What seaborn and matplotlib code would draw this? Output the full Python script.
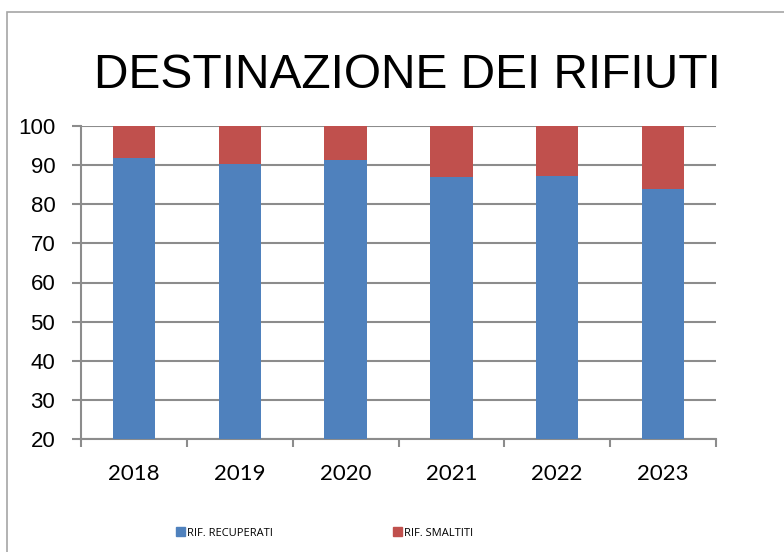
import pandas as pd
import matplotlib.pyplot as plt
import seaborn as sns
from matplotlib.patches import Patch, Rectangle
from matplotlib.ticker import FixedLocator

# values (percent)
anni = ['2018', '2019', '2020', '2021', '2022', '2023']
recuperati = [91.8, 90.4, 91.2, 86.9, 87.1, 83.8]
smaltiti = [8.2, 9.6, 8.8, 13.1, 12.9, 16.2]

df = pd.DataFrame({'Anno': anni, 'Recuperati': recuperati, 'Smaltiti': smaltiti})
df['Totale'] = df['Recuperati'] + df['Smaltiti']

blue = '#4F81BD'
red = '#C0504D'
grey = '#8C8C8C'

sns.set_style('white')
plt.rcParams['font.family'] = ['Liberation Sans', 'DejaVu Sans']
plt.rcParams['text.color'] = 'black'
plt.rcParams['xtick.color'] = 'black'
plt.rcParams['ytick.color'] = 'black'

fig = plt.figure(figsize=(7.84, 5.52), dpi=100)
ax = fig.add_axes([81 / 784, 1 - 439 / 552, (716 - 81) / 784, (439 - 126) / 552])

# stacked bars: total (red) first, then the recovered part on top
sns.barplot(data=df, x='Anno', y='Totale', color=red, width=0.4, ax=ax,
            saturation=1, edgecolor='none', zorder=3)
sns.barplot(data=df, x='Anno', y='Recuperati', color=blue, width=0.4, ax=ax,
            saturation=1, edgecolor='none', zorder=3)

ax.set_ylim(20, 100)
ax.set_xlim(-0.5, len(anni) - 0.5)
ax.set_yticks(range(20, 101, 10))
ax.set_xlabel('')
ax.set_ylabel('')

ax.yaxis.grid(True, color=grey, linewidth=1.5, zorder=0)
ax.set_axisbelow(True)
for s in ['top', 'right']:
    ax.spines[s].set_visible(False)
for s in ['left', 'bottom']:
    ax.spines[s].set_color(grey)
    ax.spines[s].set_linewidth(1.5)

ax.tick_params(axis='y', direction='out', length=6.5, width=1.5, color=grey,
               labelcolor='black', pad=12, labelsize=16, left=True)
ax.tick_params(axis='x', which='major', length=0, pad=18, labelsize=16,
               labelcolor='black')
ax.xaxis.set_minor_locator(FixedLocator([i - 0.5 for i in range(len(anni) + 1)]))
ax.tick_params(axis='x', which='minor', direction='out', length=6, width=1.5,
               color=grey, bottom=True)
for lab in ax.get_xticklabels():
    lab.set_family(['Lato', 'DejaVu Sans'])

fig.text(407 / 784, 1 - 75 / 552, 'DESTINAZIONE DEI RIFIUTI', ha='center',
         va='center', fontsize=34.5, color='black')

# chart border
fig.patches.append(Rectangle((7 / 784, -0.1), 1.2, 1 - 12 / 552 + 0.1,
                             transform=fig.transFigure, fill=False,
                             edgecolor='#A6A6A6', linewidth=1.2))

handles = [Patch(color=blue, label='RIF. RECUPERATI'),
           Patch(color=red, label='RIF. SMALTITI')]
leg = fig.legend(handles=handles, loc='center left',
                 bbox_to_anchor=(166 / 784, 1 - 533 / 552),
                 ncol=2, frameon=False, handlelength=0.8, handleheight=0.8,
                 handletextpad=0.2, columnspacing=10.8,
                 prop={'family': ['Open Sans'], 'size': 8})
for t in leg.get_texts():
    t.set_color('black')

fig.savefig('out.png', dpi=100)
